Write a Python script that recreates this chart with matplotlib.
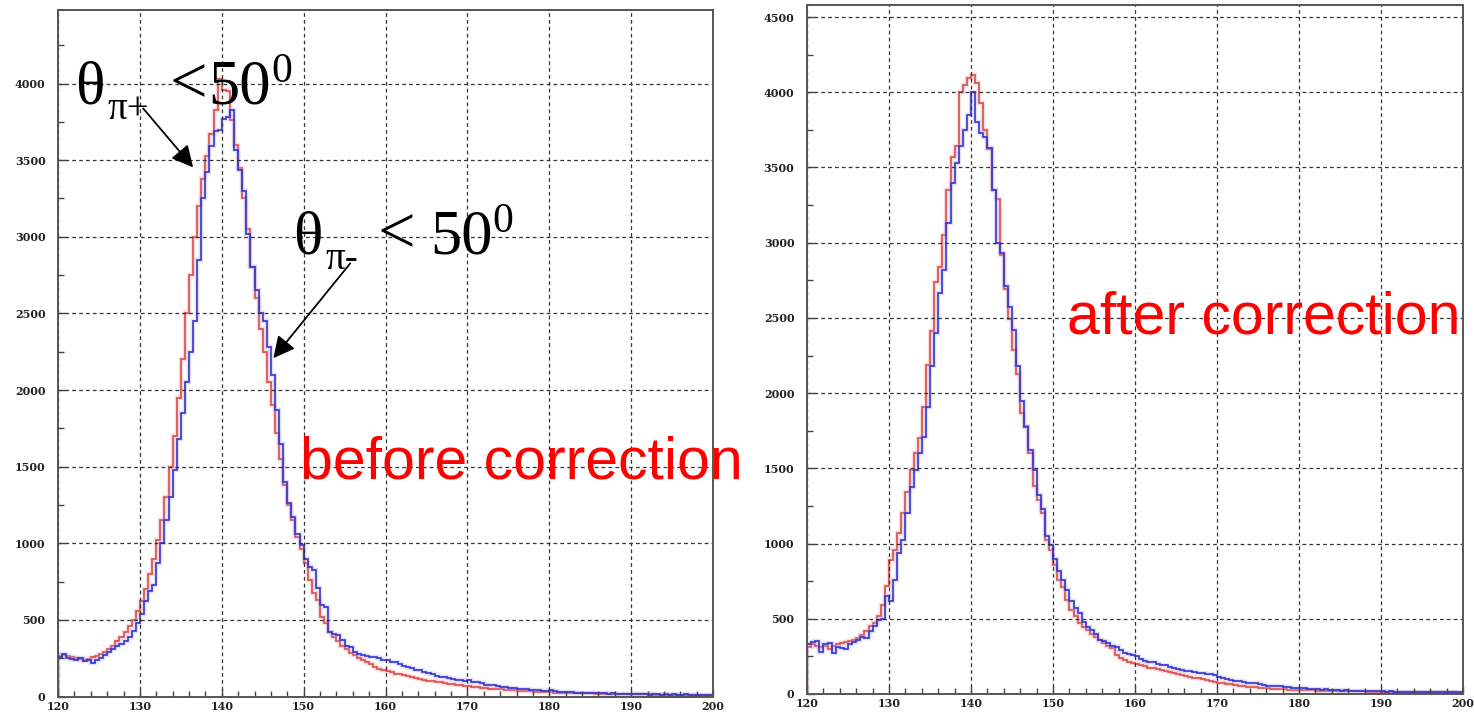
import matplotlib
matplotlib.use('Agg')
import matplotlib.pyplot as plt
import numpy as np

# bin contents, 0.5 wide bins from 120 to 200
bin_lo, bin_hi, bin_w = 120.0, 200.0, 0.5

before_pip = [
    265, 270, 262, 258, 250, 245, 240, 245, 255, 265,
    275, 290, 310, 330, 360, 390, 420, 460, 500, 560,
    620, 700, 800, 900, 1020, 1150, 1300, 1500, 1700, 1950,
    2200, 2500, 2750, 3000, 3200, 3380, 3530, 3670, 3830, 4030,
    3960, 3950, 3760, 3600, 3450, 3250, 3050, 2800, 2600, 2400,
    2250, 2050, 1900, 1720, 1550, 1380, 1250, 1150, 1040, 960,
    870, 760, 676, 630, 520, 480, 420, 390, 360, 330,
    310, 285, 270, 250, 240, 225, 210, 195, 180, 170,
    165, 160, 150, 145, 140, 135, 125, 118, 112, 108,
    104, 100, 96, 92, 88, 84, 80, 78, 74, 70,
    66, 64, 60, 58, 55, 52, 50, 48, 46, 44,
    42, 40, 38, 36, 34, 33, 32, 30, 29, 28,
    27, 26, 25, 24, 24, 23, 22, 22, 21, 20,
    20, 19, 19, 18, 18, 17, 17, 16, 16, 15,
    15, 15, 14, 14, 14, 13, 13, 13, 12, 12,
    12, 12, 11, 11, 11, 10, 10, 10, 10, 9,
]

before_pim = [
    260, 280, 250, 245, 240, 250, 230, 235, 220, 235,
    250, 270, 290, 310, 330, 340, 360, 390, 430, 480,
    540, 620, 690, 730, 870, 1000, 1150, 1300, 1480, 1680,
    1850, 2050, 2250, 2450, 2850, 3250, 3420, 3590, 3690, 3700,
    3770, 3780, 3830, 3565, 3435, 3300, 3020, 2800, 2650, 2500,
    2450, 2280, 2100, 1870, 1650, 1400, 1260, 1170, 1060, 990,
    900, 845, 826, 709, 598, 585, 422, 410, 400, 370,
    330, 320, 290, 280, 270, 265, 260, 255, 250, 240,
    235, 228, 222, 215, 200, 195, 185, 175, 170, 160,
    155, 150, 135, 130, 125, 120, 112, 108, 105, 100,
    110, 96, 92, 85, 78, 75, 72, 68, 62, 60,
    58, 55, 50, 52, 46, 44, 40, 42, 38, 36,
    40, 35, 32, 30, 28, 30, 26, 25, 24, 26,
    22, 20, 22, 20, 18, 20, 18, 16, 18, 15,
    16, 14, 18, 15, 13, 16, 14, 12, 15, 13,
    14, 12, 13, 15, 12, 11, 13, 12, 10, 12,
]

after_pip = [
    310, 330, 320, 310, 320, 300, 320, 330, 340, 345,
    350, 360, 375, 390, 420, 450, 470, 520, 590, 720,
    890, 960, 1070, 1200, 1340, 1490, 1600, 1700, 1911, 2190,
    2410, 2740, 2840, 3050, 3350, 3570, 3640, 4000, 4050, 4094,
    4116, 4060, 3930, 3750, 3620, 3350, 3290, 2920, 2690, 2490,
    2290, 2130, 1870, 1780, 1600, 1380, 1290, 1200, 1024, 958,
    860, 760, 714, 625, 560, 520, 470, 445, 426, 400,
    380, 360, 337, 320, 304, 260, 240, 226, 215, 205,
    200, 195, 185, 175, 170, 165, 158, 150, 148, 140,
    132, 127, 122, 115, 108, 104, 98, 90, 84, 80,
    75, 70, 67, 65, 58, 52, 50, 48, 46, 44,
    42, 40, 38, 36, 35, 33, 30, 29, 28, 27,
    26, 25, 25, 24, 23, 22, 22, 21, 20, 20,
    19, 19, 18, 18, 17, 17, 16, 16, 15, 15,
    15, 14, 14, 14, 13, 13, 13, 12, 12, 12,
    12, 11, 11, 11, 10, 10, 10, 10, 9, 9,
]

after_pim = [
    330, 345, 350, 280, 330, 340, 270, 310, 305, 300,
    330, 345, 360, 380, 370, 420, 450, 490, 500, 650,
    620, 760, 936, 1024, 1202, 1379, 1490, 1600, 1711, 1911,
    2177, 2399, 2665, 2819, 3130, 3400, 3530, 3640, 3750, 3850,
    4005, 3800, 3730, 3700, 3630, 3350, 3000, 2930, 2709, 2575,
    2420, 2177, 1950, 1778, 1620, 1490, 1320, 1230, 1050, 990,
    900, 820, 760, 690, 620, 570, 537, 480, 448, 426,
    400, 359, 350, 337, 320, 315, 290, 271, 265, 260,
    250, 235, 220, 215, 210, 200, 195, 190, 180, 172,
    168, 160, 152, 150, 145, 140, 138, 135, 130, 128,
    110, 106, 100, 96, 88, 84, 80, 75, 72, 70,
    66, 62, 56, 54, 52, 50, 46, 44, 42, 40,
    38, 42, 35, 32, 30, 28, 30, 26, 26, 24,
    22, 24, 22, 20, 22, 20, 20, 18, 18, 20,
    18, 16, 17, 15, 16, 14, 15, 16, 13, 14,
    15, 13, 12, 14, 12, 13, 11, 12, 13, 12,
]

x_ticks = [120, 130, 140, 150, 160, 170, 180, 190, 200]
left_yticks = [0, 500, 1000, 1500, 2000, 2500, 3000, 3500, 4000]
right_yticks = [0, 500, 1000, 1500, 2000, 2500, 3000, 3500, 4000, 4500]

edges = np.arange(bin_lo, bin_hi + bin_w / 2, bin_w)

W, H = 1474, 717
fig = plt.figure(figsize=(W / 100, H / 100), dpi=100, facecolor='w')


def px(x, y):
    # pixel position (from top left) to figure fraction
    return x / W, 1 - y / H


def setup(ax, ytop, yticks):
    ax.set_xlim(bin_lo, bin_hi)
    ax.set_ylim(0, ytop)
    ax.set_xticks(x_ticks)
    ax.set_xticks(np.arange(bin_lo, bin_hi + 1, 2), minor=True)
    ax.set_yticks(yticks)
    ax.set_yticks(np.arange(0, ytop, 250), minor=True)
    ax.tick_params(which='both', direction='in', color='#444444', width=1)
    ax.tick_params(which='major', length=6)
    ax.tick_params(which='minor', length=4)
    ax.tick_params(axis='y', pad=9)
    ax.tick_params(axis='x', pad=3)
    for lab in ax.get_xticklabels() + ax.get_yticklabels():
        lab.set_fontfamily('DejaVu Serif')
        lab.set_fontweight('bold')
        lab.set_fontsize(8)
        lab.set_color('#222222')
    ax.grid(True, which='major', color='#333333', linestyle=(0, (3, 2.5)), lw=0.9)
    for sp in ax.spines.values():
        sp.set_color('#555555')
        sp.set_linewidth(1.4)


def hist(ax, values, color, halo):
    # soft halo under each line, then the line itself
    ax.stairs(values, edges, color=halo, lw=3.2, alpha=0.35)
    ax.stairs(values, edges, color=color, lw=1.2)


def cut_label(x0, y0, sub, x_lt, x_num, x_sup):
    # theta with a pion subscript, "< 50" and a superscript 0, in a roman serif
    serif = dict(family='Liberation Serif', color='k', va='baseline', ha='left')
    fig.text(*px(x0, y0), '\u03b8', fontsize=44, **serif)
    fig.text(*px(x0 + 32, y0 + 16), sub, fontsize=28, **serif)
    fig.text(*px(x_lt, y0), '<', fontsize=48, **serif)
    fig.text(*px(x_num, y0), '50', fontsize=45, **serif)
    fig.text(*px(x_sup, y0 - 21), '0', fontsize=30, **serif)


l0, b0 = px(58, 696.5)
l1, b1 = px(713, 10)
ax1 = fig.add_axes([l0, b0, l1 - l0, b1 - b0])
setup(ax1, 4480, left_yticks)
hist(ax1, before_pip, '#dd4c4c', '#f3a0a0')
hist(ax1, before_pim, '#3535cf', '#a8a8f0')

r0, c0 = px(807, 694)
r1, c1 = px(1463, 5)
ax2 = fig.add_axes([r0, c0, r1 - r0, c1 - c0])
setup(ax2, 4580, right_yticks)
hist(ax2, after_pip, '#dd4c4c', '#f3a0a0')
hist(ax2, after_pim, '#3535cf', '#a8a8f0')

cut_label(75, 103, '\u03c0+', 170, 208, 271)
cut_label(293, 253, '\u03c0-', 378, 430, 492)

arrow = dict(arrowstyle='-|>,head_length=0.65,head_width=0.33', color='k', lw=1.3,
             mutation_scale=20, shrinkA=0, shrinkB=0)
ax1.annotate('', xy=(136.5, 3453), xytext=(130.4, 3838), arrowprops=arrow)
ax1.annotate('', xy=(146.3, 2208), xytext=(155.7, 2827), arrowprops=arrow)

fig.text(*px(300, 463), 'before correction', fontsize=42.5, color='#ff0000',
         family='Liberation Sans', va='center', ha='left')
fig.text(*px(1067, 318), 'after correction', fontsize=42.5, color='#ff0000',
         family='Liberation Sans', va='center', ha='left')

plt.savefig('out.png', dpi=100, facecolor='w')
plt.close()
